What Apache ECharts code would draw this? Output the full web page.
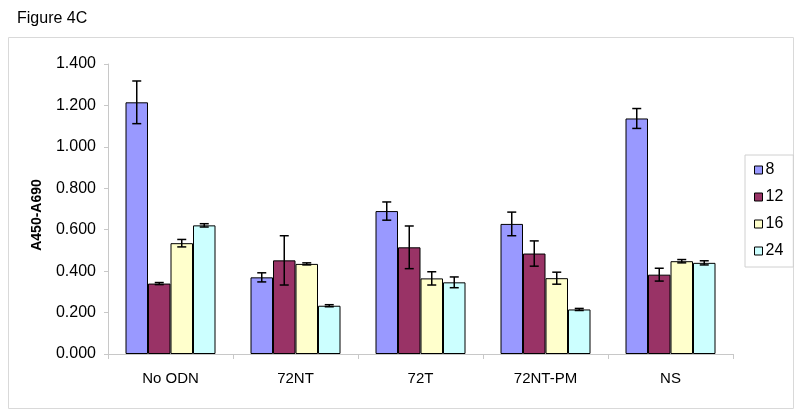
<!DOCTYPE html>
<html>
<head>
<meta charset="utf-8">
<script src="https://cdn.jsdelivr.net/npm/echarts@6/dist/echarts.min.js"></script>
<style>
  html, body { margin: 0; padding: 0; background: #fff; }
  #chart { width: 800px; height: 415px; }
</style>
</head>
<body>
<div id="chart"></div>
<script>
// groups on the x axis
const categories = ['No ODN', '72NT', '72T', '72NT-PM', 'NS']
const seriesNames = ['8', '12', '16', '24']

// means
const s8 = [1.215, 0.370, 0.690, 0.628, 1.137]
const s12 = [0.340, 0.452, 0.515, 0.485, 0.383]
const s16 = [0.535, 0.435, 0.365, 0.366, 0.448]
const s24 = [0.621, 0.233, 0.346, 0.215, 0.440]

// error (+/-)
const e8 = [0.103, 0.022, 0.044, 0.057, 0.048]
const e12 = [0.005, 0.119, 0.103, 0.061, 0.031]
const e16 = [0.018, 0.005, 0.032, 0.029, 0.008]
const e24 = [0.008, 0.005, 0.026, 0.005, 0.010]

const yTicks = [0, 0.2, 0.4, 0.6, 0.8, 1.0, 1.2, 1.4]

const means = [s8, s12, s16, s24]
const errs = [e8, e12, e16, e24]
const colors = ['#9999FF', '#993366', '#FFFFCC', '#CCFFFF']
const catGap = 0.28

const font = 'Liberation Sans, Arial, sans-serif'

// error bar points: [category, series index, value, err]
const errData = []
means.forEach((arr, si) => {
  arr.forEach((v, ci) => {
    errData.push([ci, si, v, errs[si][ci]])
  })
})

const chart = echarts.init(document.getElementById('chart'))

const barSeries = seriesNames.map((name, i) => ({
  name: name,
  type: 'bar',
  data: means[i],
  barGap: '0%',
  barCategoryGap: (catGap * 100) + '%',
  itemStyle: { color: colors[i], borderColor: '#000', borderWidth: 1 },
  z: 2
}))

chart.setOption({
  animation: false,
  textStyle: { fontFamily: font },
  title: {
    text: 'Figure 4C',
    left: 12,
    top: 6,
    textStyle: { fontSize: 16, fontWeight: 'normal', color: '#000', fontFamily: font }
  },
  graphic: [{
    type: 'rect',
    shape: { x: 8.5, y: 37.5, width: 785, height: 371 },
    style: { fill: 'none', stroke: '#d9d9d9', lineWidth: 1 },
    silent: true,
    z: -1
  }],
  legend: {
    data: seriesNames,
    orient: 'vertical',
    left: 745,
    top: 155,
    width: 43,
    height: 109,
    padding: [7, 10, 8, 9],
    itemGap: 11,
    itemWidth: 8,
    itemHeight: 8,
    icon: 'rect',
    itemStyle: { borderColor: '#000', borderWidth: 1 },
    borderColor: '#d0d0d0',
    borderWidth: 1,
    textStyle: { fontSize: 16, color: '#000', fontFamily: font, padding: [0, 0, 0, -2] }
  },
  grid: { left: 108, right: 67, top: 64, bottom: 61 },
  xAxis: {
    type: 'category',
    data: categories,
    axisLine: { lineStyle: { color: '#c8c8c8' } },
    axisTick: { show: true, length: 5, lineStyle: { color: '#c8c8c8' } },
    axisLabel: { fontSize: 15, color: '#000', margin: 17, fontFamily: font }
  },
  yAxis: {
    type: 'value',
    min: yTicks[0],
    max: yTicks[yTicks.length - 1],
    interval: 0.2,
    name: 'A450-A690',
    nameLocation: 'middle',
    nameGap: 64,
    nameTextStyle: { fontSize: 14, fontWeight: 'bold', color: '#000', fontFamily: font, padding: [0, 12, 0, 0] },
    axisLine: { show: true, lineStyle: { color: '#c8c8c8' } },
    axisTick: { show: true, length: 4, lineStyle: { color: '#c8c8c8' } },
    axisLabel: { fontSize: 16, color: '#000', margin: 12, fontFamily: font, formatter: v => v.toFixed(3) },
    splitLine: { show: false }
  },
  series: barSeries.concat([{
    type: 'custom',
    name: 'err',
    data: errData,
    encode: { x: 0, y: 2 },
    z: 5,
    silent: true,
    renderItem: function (params, api) {
      const ci = api.value(0)
      const si = api.value(1)
      const v = api.value(2)
      const e = api.value(3)
      const band = api.size([1, 0])[0]
      const group = band * (1 - catGap)
      const bw = group / seriesNames.length
      const c = api.coord([ci, v])
      const x = c[0] - group / 2 + (si + 0.5) * bw
      const yt = api.coord([ci, v + e])[1]
      const yb = api.coord([ci, v - e])[1]
      const cap = 4.5
      const st = { stroke: '#000', lineWidth: 1.5 }
      return {
        type: 'group',
        children: [
          { type: 'line', shape: { x1: x, y1: yt, x2: x, y2: yb }, style: st },
          { type: 'line', shape: { x1: x - cap, y1: yt, x2: x + cap, y2: yt }, style: st },
          { type: 'line', shape: { x1: x - cap, y1: yb, x2: x + cap, y2: yb }, style: st }
        ]
      }
    }
  }])
})
</script>
</body>
</html>
